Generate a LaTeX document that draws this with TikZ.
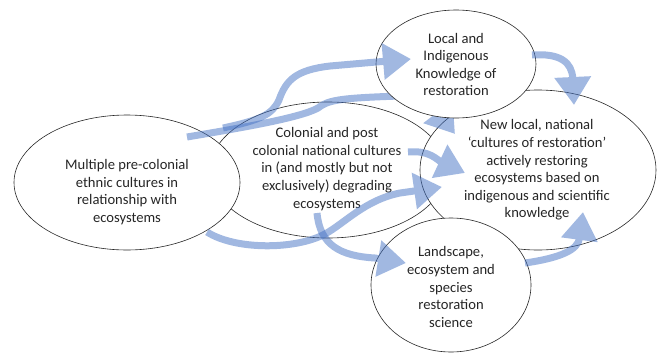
\documentclass[tikz,border=0pt]{standalone}
\usepackage{fontspec}
\setmainfont{Carlito}
\usetikzlibrary{shapes.geometric,arrows.meta}
\definecolor{flowblue}{HTML}{4472C4}
\definecolor{inkgray}{HTML}{262626}
\begin{document}
\begin{tikzpicture}[x=1pt,y=-1pt,
  bubble/.style={ellipse, draw=inkgray, line width=0.6pt, fill=white, inner sep=0pt},
  caption/.style={align=center, text=inkgray, font=\fontsize{14.6}{17.6}\selectfont, inner sep=0pt},
  flow/.style={draw=flowblue, line width=7pt, -{Triangle[length=28pt,width=35pt]}},
  fade/.style={transparency group, opacity=0.5}]
\useasboundingbox (0,0) rectangle (662,354);

% lower layer of bubbles
\node[bubble, minimum width=236pt, minimum height=136pt] (colonial) at (328,170) {};
\node[bubble, minimum width=226pt, minimum height=135pt] (precolonial) at (127,182.5) {};
\node[bubble, minimum width=236pt, minimum height=160pt] (newcult) at (538,170) {};

% flow that runs behind the knowledge bubble
\coordinate (preA) at (187,137);
\coordinate (newA) at (455,134);
\begin{scope}[fade]
  \draw[flow] (preA) .. controls (240,128) and (300,118) .. (318,108)
     .. controls (328,100) and (340,98) .. (400,96)
     .. controls (424,96) and (438,112) .. (newA);
\end{scope}

% upper layer of bubbles
\node[bubble, minimum width=160pt, minimum height=108pt] (indig) at (456,64) {};
\node[bubble, minimum width=160pt, minimum height=134pt] (science) at (451,285) {};

% texts
\node[caption] (precolonial-t) at (127,192) {Multiple pre-colonial\\ethnic cultures in\\relationship with\\ecosystems};
\node[caption] (colonial-t) at (327,169) {Colonial and post\\colonial national cultures\\in (and mostly but not\\exclusively) degrading\\ecosystems};
\node[caption] (indig-t) at (456,64.5) {Local and\\Indigenous\\Knowledge of\\restoration};
\node[caption] (newcult-t) at (537,170) {New local, national\\‘cultures of restoration’\\actively restoring\\ecosystems based on\\indigenous and scientific\\knowledge};
\node[caption] (science-t) at (451,287) {Landscape,\\ecosystem and\\species\\restoration\\science};

% arrow end points
\coordinate (preB) at (223,128);
\coordinate (indigA) at (411,59);
\coordinate (preC) at (207,232);
\coordinate (newB) at (442,187);
\coordinate (colA) at (317,213);
\coordinate (sciA) at (406,263);
\coordinate (colB) at (408,152);
\coordinate (newC) at (465,173);
\coordinate (indigB) at (532,55);
\coordinate (newD) at (574,105);
\coordinate (sciB) at (525,263);
\coordinate (newE) at (583,212);

\begin{scope}[fade]
  \draw[flow] (preB) .. controls (260,120) and (272,115) .. (279,100)
     .. controls (286,80) and (296,70) .. (330,66) -- (indigA);
\end{scope}
\begin{scope}[fade]
  \draw[flow] (preC) .. controls (235,250) and (295,250) .. (325,234)
     .. controls (345,223) and (365,200) .. (400,193) -- (newB);
\end{scope}
\begin{scope}[fade]
  \draw[flow] (colA) .. controls (320,245) and (340,256) .. (375,258) -- (sciA);
\end{scope}
\begin{scope}[fade]
  \draw[flow] (colB) .. controls (430,150) and (437,160) .. (newC);
\end{scope}
\begin{scope}[fade]
  \draw[flow] (indigB) .. controls (560,53) and (572,62) .. (newD);
\end{scope}
\begin{scope}[fade]
  \draw[flow] (sciB) .. controls (560,258) and (578,250) .. (newE);
\end{scope}
\end{tikzpicture}
\end{document}
